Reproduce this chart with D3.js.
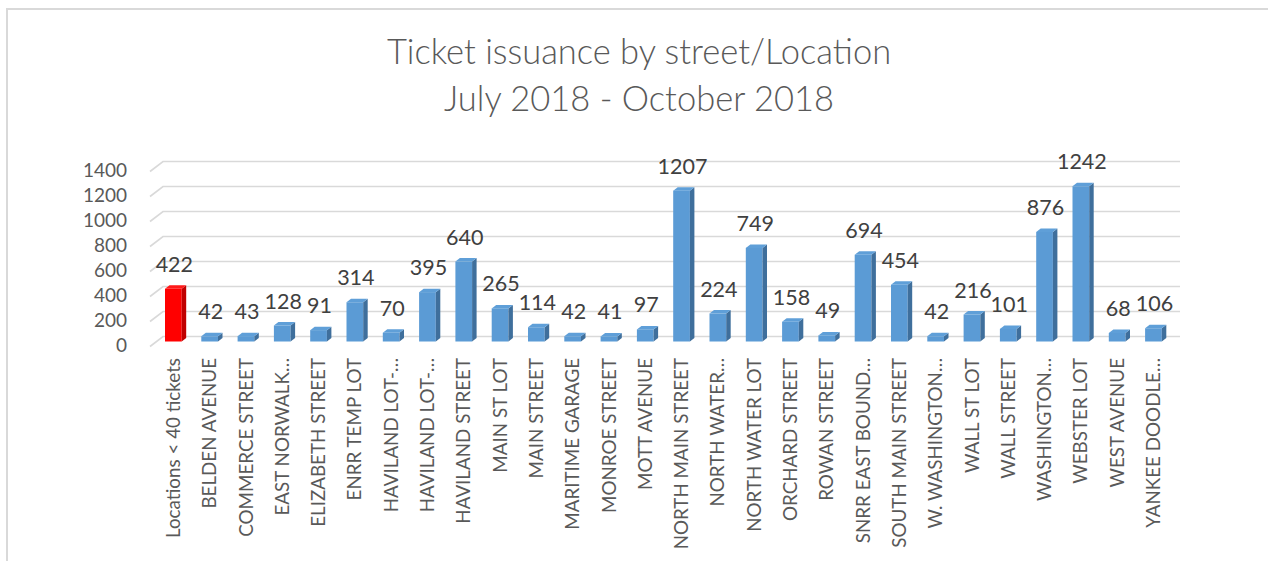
<!DOCTYPE html>
<html>
<head>
<meta charset="utf-8">
<script src="https://cdn.jsdelivr.net/npm/d3@7"></script>
<style>
  body { margin: 0; background: #fff; }
  svg { display: block; font-family: Lato, 'Open Sans', sans-serif; }
</style>
</head>
<body>
<div id="chart"></div>
<script>
const titleLines = ['Ticket issuance by street/Location', 'July 2018 - October 2018'];

const locations = [
  'Locations < 40 tickets', 'BELDEN AVENUE', 'COMMERCE STREET', 'EAST NORWALK…',
  'ELIZABETH STREET', 'ENRR TEMP LOT', 'HAVILAND LOT-…', 'HAVILAND LOT-…',
  'HAVILAND STREET', 'MAIN ST LOT', 'MAIN STREET', 'MARITIME GARAGE',
  'MONROE STREET', 'MOTT AVENUE', 'NORTH MAIN STREET', 'NORTH WATER…',
  'NORTH WATER LOT', 'ORCHARD STREET', 'ROWAN STREET', 'SNRR EAST BOUND…',
  'SOUTH MAIN STREET', 'W. WASHINGTON…', 'WALL ST LOT', 'WALL STREET',
  'WASHINGTON…', 'WEBSTER LOT', 'WEST AVENUE', 'YANKEE DOODLE…'
];
const tickets = [
  422, 42, 43, 128, 91, 314, 70, 395, 640, 265, 114, 42, 41, 97,
  1207, 224, 749, 158, 49, 694, 454, 42, 216, 101, 876, 1242, 68, 106
];
const yTicks = [0, 200, 400, 600, 800, 1000, 1200, 1400];

const width = 1268, height = 561;

// 3D-ish geometry: front plane, bars half way in, back wall behind
const wallDx = 13, wallDy = -10;
const barDx = 6.5, barDy = -5;
const sideDx = 4.5, sideDy = -3.5;

const svg = d3.select('#chart').append('svg')
    .attr('width', width)
    .attr('height', height);

// chart border (only left/top visible in the picture)
svg.append('path')
    .attr('d', 'M7,561 V9 H1268')
    .attr('fill', 'none')
    .attr('stroke', '#d9d9d9')
    .attr('stroke-width', 2);

svg.append('g').selectAll('text')
    .data(titleLines).enter()
    .append('text')
    .attr('x', 639)
    .attr('y', (d, i) => 64 + i * 47)
    .attr('text-anchor', 'middle')
    .attr('fill', '#595959')
    .style('font-size', '34.5px')
    .style('font-weight', 300)
    .text(d => d);

// y scale on the front plane
let y = d3.scaleLinear()
    .domain([0, 1400])
    .range([346.5, 171.5]);

// band scale for the bar plane
let x = d3.scaleBand()
    .domain(d3.range(locations.length))
    .range([155.2, 1171.6])
    .paddingInner(0.54)
    .paddingOuter(0.27);

const x0 = x(0) - barDx - 8.5; // front-left corner of the floor

// gridlines on the back wall + the left diagonal
let grid = svg.append('g').attr('class', 'grid')
    .attr('stroke', '#d9d9d9')
    .attr('stroke-width', 1.6)
    .attr('fill', 'none');

grid.selectAll('path')
    .data(yTicks).enter()
    .append('path')
    .attr('d', d => 'M' + x0 + ',' + y(d) +
        ' L' + (x0 + wallDx) + ',' + (y(d) + wallDy) +
        ' H1180');

// y axis labels
let yAxis = d3.axisLeft(y)
    .tickValues(yTicks)
    .tickFormat(d3.format('d'))
    .tickSize(0)
    .tickPadding(0);

let yAxisG = svg.append('g')
    .attr('transform', 'translate(127,-1)')
    .call(yAxis);
yAxisG.select('.domain').remove();
yAxisG.selectAll('text')
    .attr('fill', '#595959')
    .style('font-size', '19px')
    .style('font-family', 'Lato, sans-serif');

// bars
let bars = svg.append('g').attr('class', 'bars')
    .selectAll('g')
    .data(tickets).enter()
    .append('g')
    .attr('transform', (d, i) => 'translate(' + x(i) + ',' + barDy + ')');

const bw = x.bandwidth();
const frontColor = (i) => i === 0 ? '#ff0000' : '#5b9bd5';
const sideColor = (i) => i === 0 ? '#c00000' : '#3f6f9c';
const topColor = (i) => i === 0 ? '#ff1a1a' : '#5f9fd8';

bars.append('rect')
    .attr('x', 0)
    .attr('y', d => y(d))
    .attr('width', bw)
    .attr('height', d => y(0) - y(d))
    .attr('fill', (d, i) => frontColor(i));

bars.append('path')
    .attr('d', d => 'M' + bw + ',' + y(0) +
        ' L' + bw + ',' + y(d) +
        ' L' + (bw + sideDx) + ',' + (y(d) + sideDy) +
        ' L' + (bw + sideDx) + ',' + (y(0) + sideDy) + 'Z')
    .attr('fill', (d, i) => sideColor(i));

bars.append('path')
    .attr('d', d => 'M0,' + y(d) +
        ' L' + sideDx + ',' + (y(d) + sideDy) +
        ' L' + (bw + sideDx) + ',' + (y(d) + sideDy) +
        ' L' + bw + ',' + y(d) + 'Z')
    .attr('fill', (d, i) => topColor(i));

// value labels
bars.append('text')
    .attr('x', bw / 2 + 1)
    .attr('y', d => y(d) - 17)
    .attr('text-anchor', 'middle')
    .attr('fill', '#404040')
    .style('font-size', '21.5px')
    .text(d => d);

// category labels, rotated
svg.append('g').attr('class', 'x axis')
    .selectAll('text')
    .data(locations).enter()
    .append('text')
    .attr('transform', (d, i) => 'translate(' + (x(i) + bw / 2) + ',358)rotate(-90)')
    .attr('dy', '0.35em')
    .attr('text-anchor', 'end')
    .attr('fill', '#595959')
    .style('font-size', '18.8px')
    .text(d => d);
</script>
</body>
</html>
